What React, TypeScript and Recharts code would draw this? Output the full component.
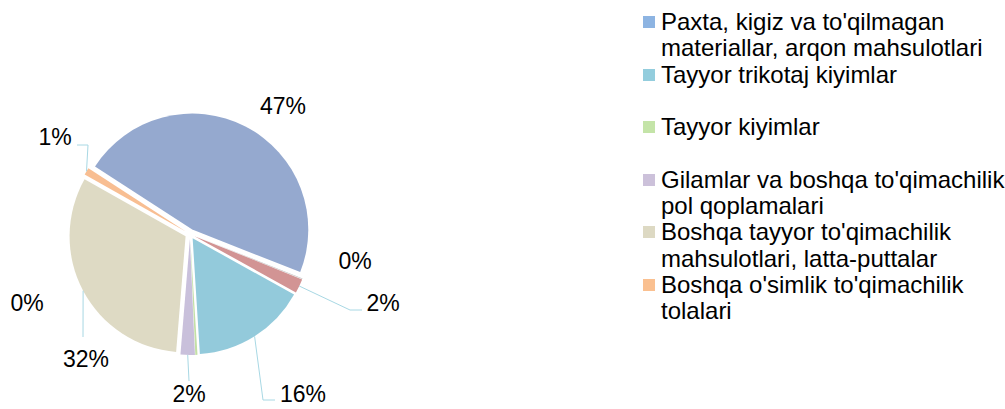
import { PieChart, Pie, Cell, Sector, Legend } from 'recharts';

// slice order follows the source sheet (clockwise from the first slice)
const SLICE_NAMES = [
    "Paxta, kigiz va to'qilmagan materiallar, arqon mahsulotlari",
    'Boshqa (0)',
    'Boshqa (2)',
    'Tayyor trikotaj kiyimlar',
    'Tayyor kiyimlar',
    "Gilamlar va boshqa to'qimachilik pol qoplamalari",
    "Boshqa tayyor to'qimachilik mahsulotlari, latta-puttalar",
    "Boshqa o'simlik to'qimachilik tolalari",
];
const SLICE_VALUES = [47, 0.1, 2, 16, 0.3, 2, 32, 1];
const SLICE_COLORS = ['#95A9CF', '#BDBDBD', '#D29494', '#93CADB', '#C3E0A6', '#C9C0DB', '#DEDAC4', '#F8BE92'];

const LEGEND_LINES = [
    ["Paxta, kigiz va to'qilmagan", 'materiallar, arqon mahsulotlari'],
    ['Tayyor trikotaj kiyimlar'],
    ['Tayyor kiyimlar'],
    ["Gilamlar va boshqa to'qimachilik", 'pol qoplamalari'],
    ["Boshqa tayyor to'qimachilik", 'mahsulotlari, latta-puttalar'],
    ["Boshqa o'simlik to'qimachilik", 'tolalari'],
];
const LEGEND_COLORS = ['#8DB4E2', '#93CDDD', '#C4E4A8', '#CCC1DA', '#DDD9C3', '#FAC090'];

const FONT = "Arial, 'Liberation Sans', sans-serif";
const EXPLODE = 5;
const RAD = Math.PI / 180;
const LEADER = '#A8D8E4';

// label text position and leader bends, relative to the pie centre
const LABEL_LAYOUT: { text: [number, number]; leader?: [number, number][] }[] = [
    { text: [93, -128] },
    { text: [165, 27] },
    { text: [193, 69], leader: [[160, 76], [172, 76]] },
    { text: [113, 160], leader: [[73, 166], [85, 166]] },
    { text: [-163, 69] },
    { text: [-1, 160], leader: [[-1, 147]] },
    { text: [-104, 125], leader: [[-107, 103]] },
    { text: [-135, -97], leader: [[-102, -89], [-113, -89]] },
];

const chartData = SLICE_NAMES.map((name, i) => ({ name, value: SLICE_VALUES[i] }));

const ExplodedSector = (props: any) => {
    const { cx, cy, midAngle } = props;
    const dx = EXPLODE * Math.cos(-midAngle * RAD);
    const dy = EXPLODE * Math.sin(-midAngle * RAD);
    return <Sector {...props} cx={cx + dx} cy={cy + dy} stroke="none" />;
};

const renderLabel = (props: any) => {
    const { cx, cy, midAngle, outerRadius, percent, index } = props;
    const layout = LABEL_LAYOUT[index];
    if (!layout) return null;
    const r = outerRadius + EXPLODE;
    const sx = cx + r * Math.cos(-midAngle * RAD);
    const sy = cy + r * Math.sin(-midAngle * RAD);
    const pts = layout.leader
        ? [[sx, sy], ...layout.leader.map(([x, y]) => [cx + x, cy + y])]
        : null;
    return (
        <g key={`lbl-${index}`}>
            {pts && (
                <polyline
                    points={pts.map((p) => p.join(',')).join(' ')}
                    fill="none"
                    stroke={LEADER}
                    strokeWidth={1}
                />
            )}
            <text
                x={cx + layout.text[0]}
                y={cy + layout.text[1]}
                textAnchor="middle"
                dominantBaseline="central"
                fontSize={23}
                fontFamily={FONT}
                fill="#000"
            >
                {`${Math.round(percent * 100)}%`}
            </text>
        </g>
    );
};

const renderLegend = () => (
    <div style={{ fontFamily: FONT, fontSize: 24, color: '#000' }}>
        {LEGEND_LINES.map((lines, i) => (
            <div key={i} style={{ position: 'relative', height: 52.6, paddingLeft: 18 }}>
                <span
                    style={{
                        position: 'absolute',
                        left: 0,
                        top: 7,
                        width: 12,
                        height: 12,
                        background: LEGEND_COLORS[i],
                    }}
                />
                {lines.map((line, j) => (
                    <div key={j} style={{ lineHeight: '26.3px', whiteSpace: 'nowrap' }}>
                        {line}
                    </div>
                ))}
            </div>
        ))}
    </div>
);

export default function App() {
    return (
        <div style={{ width: 1005, height: 409, background: '#fff', overflow: 'hidden' }}>
            <style>{'body{margin:0}'}</style>
            <PieChart width={1005} height={409} margin={{ top: 0, right: 0, bottom: 0, left: 0 }}>
                <Pie
                    data={chartData}
                    dataKey="value"
                    nameKey="name"
                    cx={190}
                    cy={234}
                    outerRadius={116}
                    startAngle={147}
                    endAngle={-213}
                    shape={ExplodedSector}
                    label={renderLabel}
                    labelLine={false}
                    isAnimationActive={false}
                >
                    {chartData.map((_, i) => (
                        <Cell key={i} fill={SLICE_COLORS[i]} />
                    ))}
                </Pie>
                <Legend
                    content={renderLegend}
                    wrapperStyle={{ position: 'absolute', left: 643, top: 9, width: 362, bottom: 'auto', right: 'auto' }}
                />
            </PieChart>
        </div>
    );
}
